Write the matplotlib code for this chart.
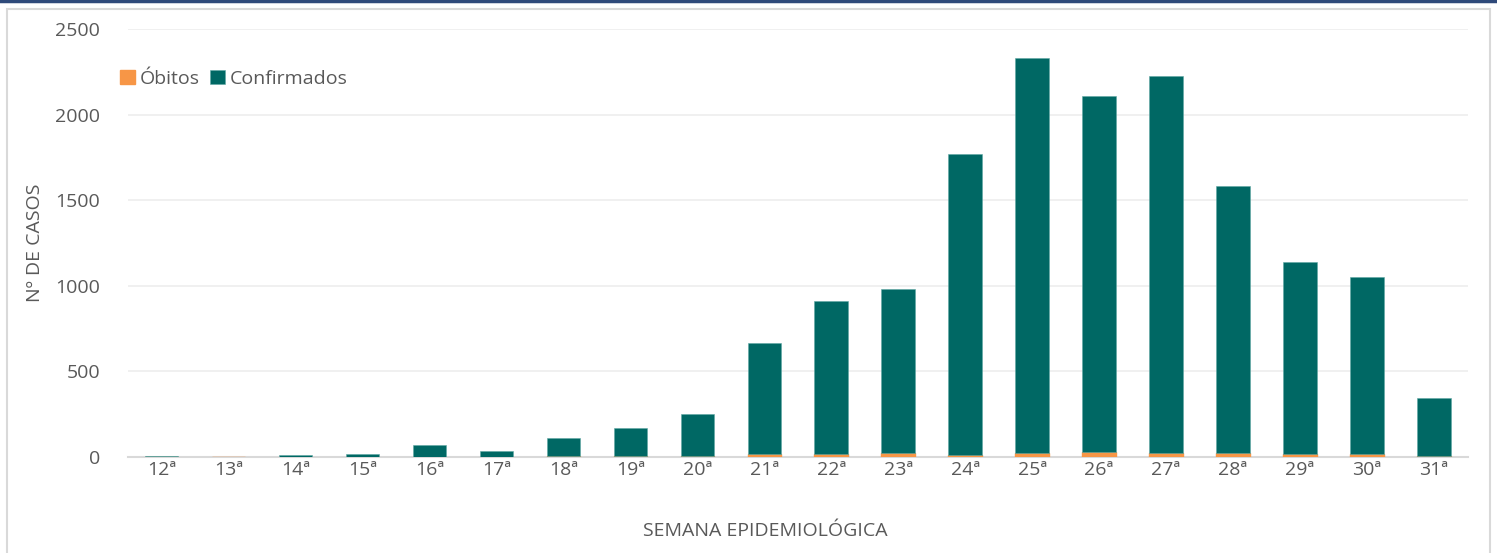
import matplotlib.pyplot as plt
import numpy as np
from matplotlib.patches import Rectangle
from matplotlib.lines import Line2D

plt.rcParams['font.family'] = ['Open Sans', 'DejaVu Sans']

semanas = ['12ª', '13ª', '14ª', '15ª', '16ª', '17ª', '18ª', '19ª', '20ª', '21ª',
           '22ª', '23ª', '24ª', '25ª', '26ª', '27ª', '28ª', '29ª', '30ª', '31ª']
obitos = [1, 0, 1, 2, 1, 1, 3, 5, 7, 17, 18, 23, 12, 25, 29, 23, 22, 18, 17, 3]
confirmados = [4, 2, 9, 18, 69, 34, 108, 165, 244, 649,
               893, 958, 1758, 2306, 2080, 2202, 1561, 1121, 1034, 342]

orange = '#F79646'
teal = '#006864'
txt = '#595959'

fig = plt.figure(figsize=(14.97, 5.53), dpi=100)
ax = fig.add_axes([0.0855, 0.1736, 0.8948, 0.774])

x = np.arange(len(semanas))
ax.bar(x, obitos, width=0.5, color=orange, edgecolor=orange, linewidth=1.0,
       label='Óbitos', zorder=3)
ax.bar(x, confirmados, width=0.5, bottom=obitos, color=teal, edgecolor='#5fa8a4',
       linewidth=0.4, label='Confirmados', zorder=4)

ax.set_xlim(-0.5, len(semanas) - 0.5)
ax.set_ylim(0, 2500)
ax.set_yticks([0, 500, 1000, 1500, 2000, 2500])
ax.set_xticks(x, semanas)
ax.tick_params(axis='both', length=0, labelsize=14, colors=txt)
ax.tick_params(axis='y', pad=20)
ax.tick_params(axis='x', pad=3)
ax.grid(axis='y', color='#EEEEEE', linewidth=1.2, zorder=0)
for s in ['top', 'right', 'left']:
    ax.spines[s].set_visible(False)
ax.spines['bottom'].set_color('#D9D9D9')
ax.spines['bottom'].set_linewidth(1.5)
ax.spines['bottom'].set_zorder(2)

ax.set_ylabel('Nº DE CASOS', fontsize=14, color=txt, labelpad=8)
fig.text(765 / 1497, 1 - 531 / 553, 'SEMANA EPIDEMIOLÓGICA', fontsize=14, color=txt,
         ha='center', va='center')

fig.legend(loc='upper left', bbox_to_anchor=(102 / 1497, 1 - 52 / 553), ncol=2,
           frameon=False, fontsize=14, handlelength=0.8, handleheight=0.8,
           handletextpad=0.25, columnspacing=0.5, labelcolor=txt)

# frame around chart and top rule
fig.patches.append(Rectangle((7 / 1497, -0.05), (1490 - 7) / 1497, 1 - 9 / 553 + 0.05,
                             transform=fig.transFigure, fill=False,
                             edgecolor='#D9D9D9', linewidth=1.5))
fig.lines.append(Line2D([0, 1], [1 - 1 / 553, 1 - 1 / 553], transform=fig.transFigure,
                        color='#2F4A7A', linewidth=2.5))

fig.savefig('out.png', dpi=100)
